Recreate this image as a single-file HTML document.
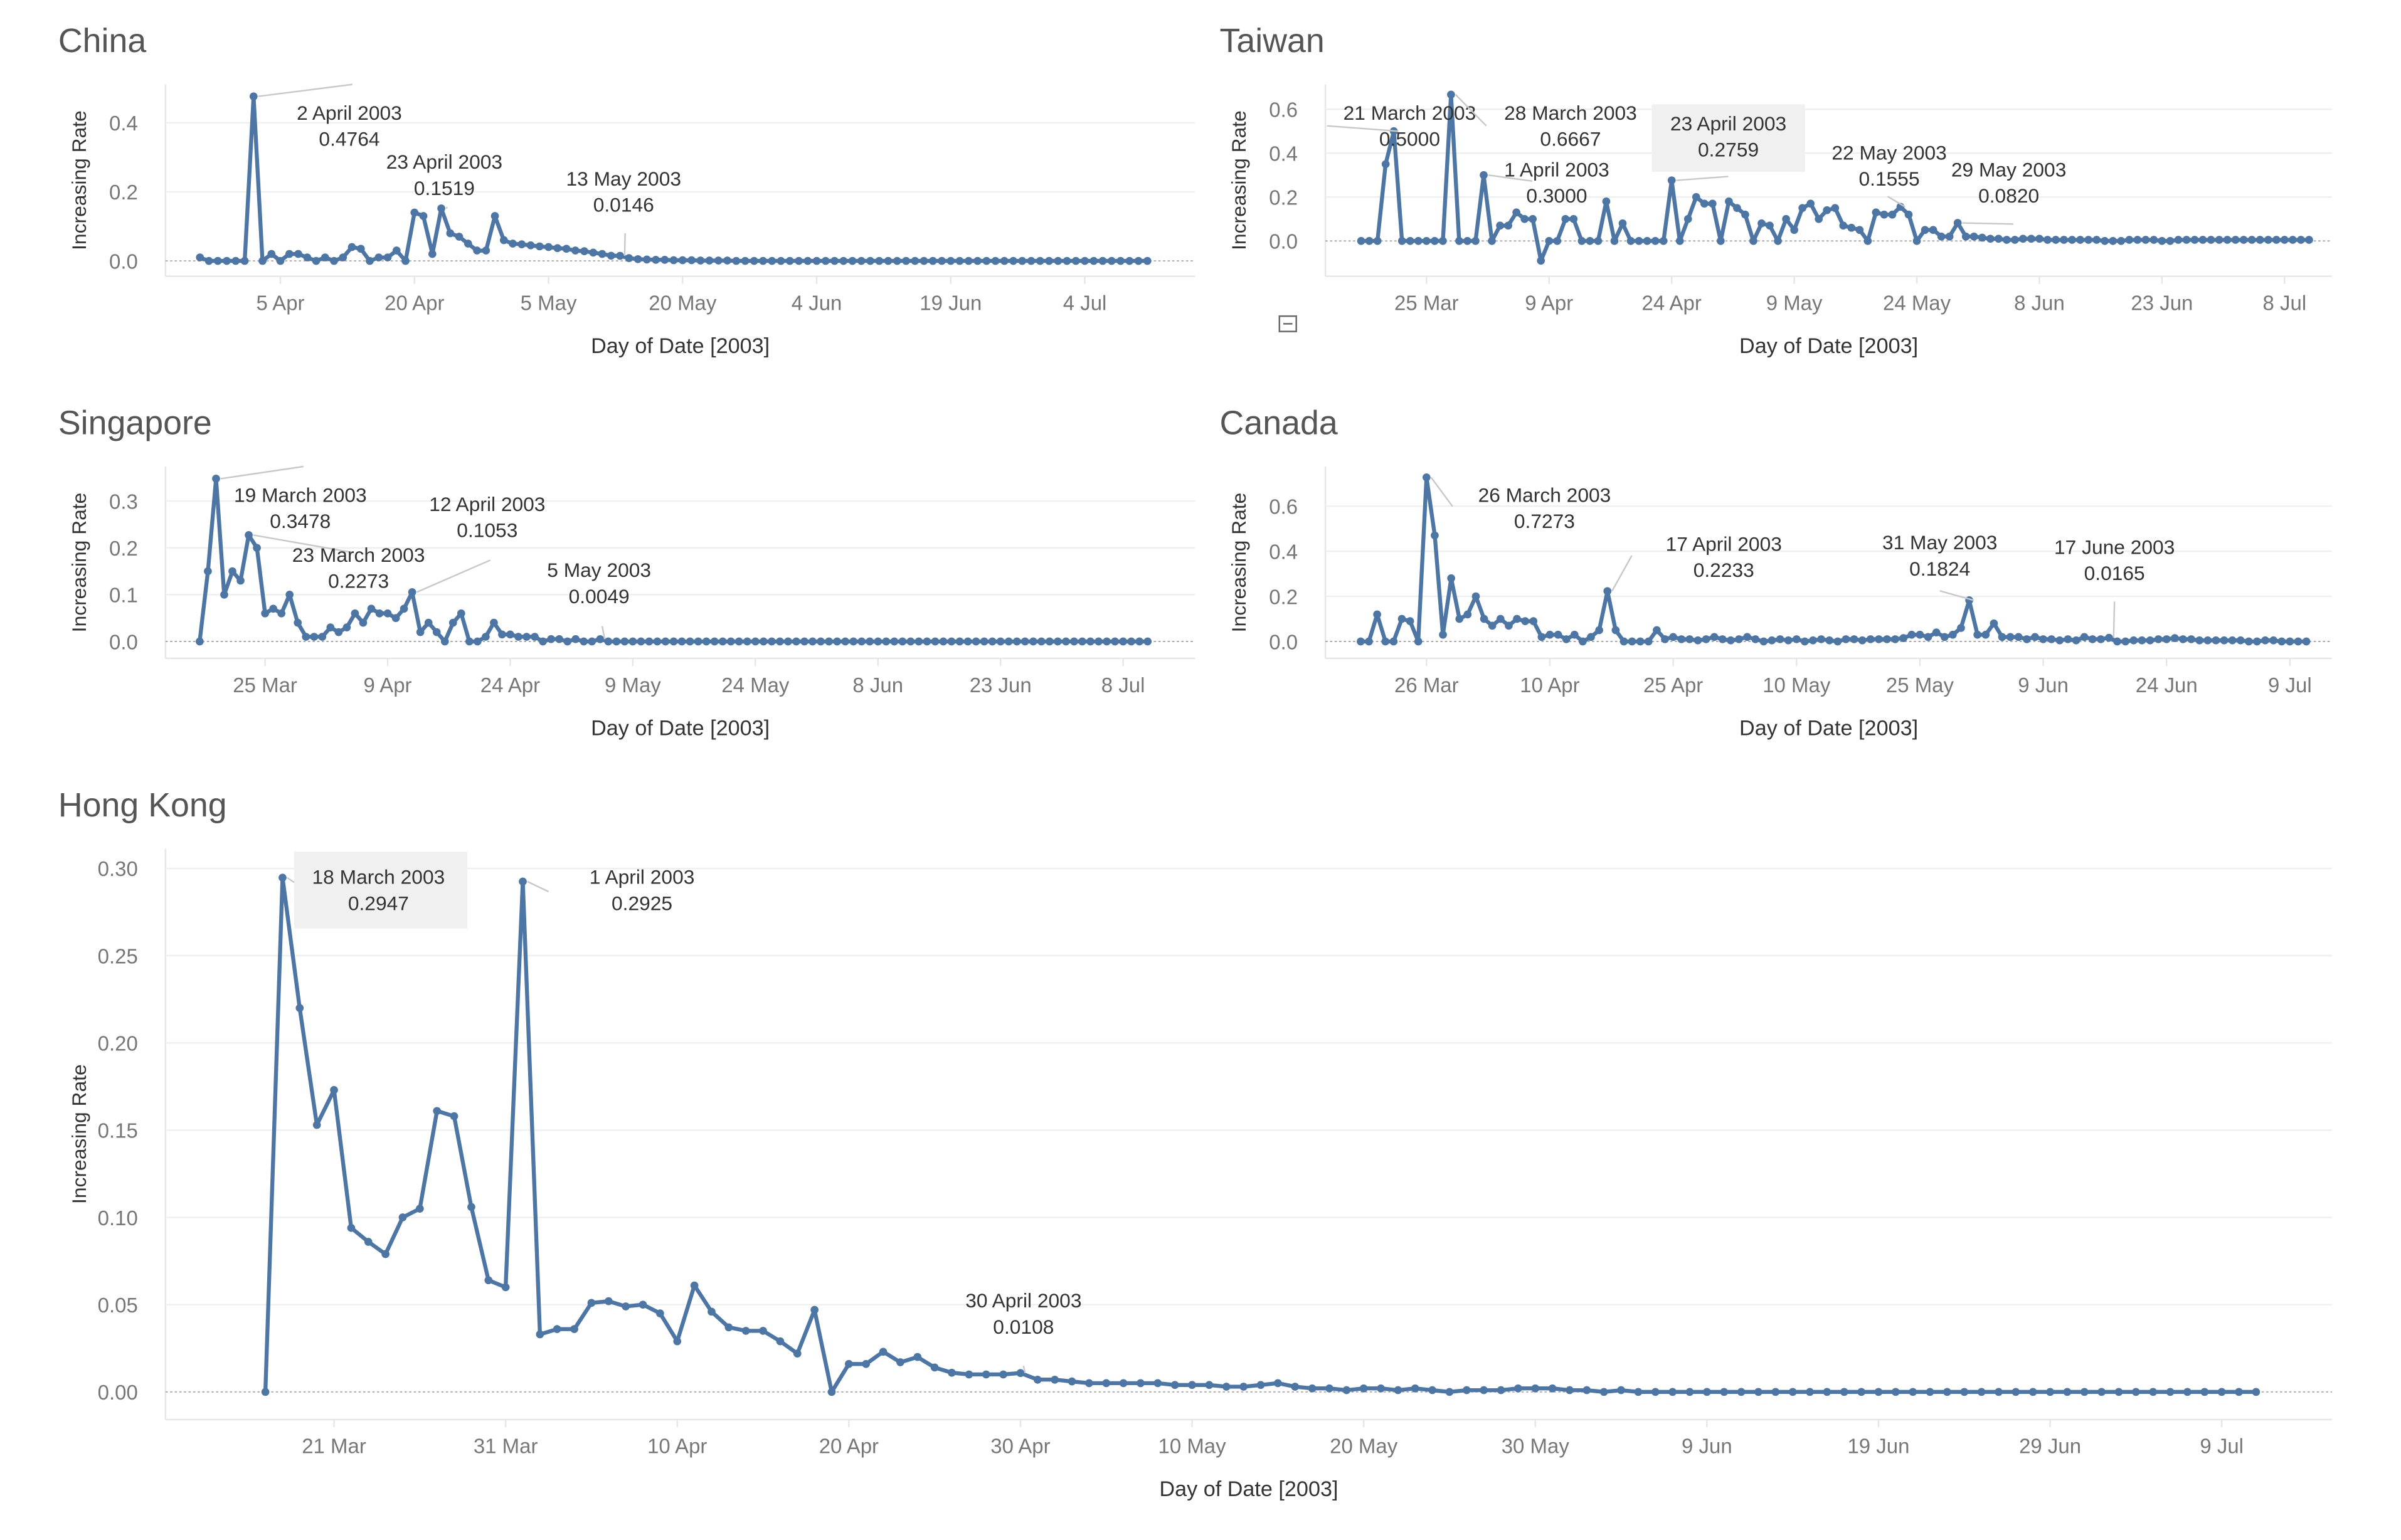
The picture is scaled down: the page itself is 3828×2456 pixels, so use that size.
<!DOCTYPE html>
<html><head><meta charset="utf-8"><style>
html,body{margin:0;padding:0;background:#fff;}
svg{display:block;}
text{font-family:"Liberation Sans",sans-serif;}
</style></head><body>
<svg id="chart" xmlns="http://www.w3.org/2000/svg" width="3828" height="2456" viewBox="0 0 1567 1003.5" preserveAspectRatio="none">
<rect width="1600" height="1010" fill="#fff"/>
</svg>
<script>
// Day numbers: Mar 1 = 0
const chinaStart = 26; // 27 Mar
const chinaValues = [0.01,0,0,0,0,0,
0.4764,0,0.02,0,0.02,0.02,0.01,0,0.01,0,0.01,0.04,0.035,0,0.01,0.01,0.03,0,0.14,0.13,0.02,0.1519,0.08,0.07,0.05,0.03,0.03,0.13,0.06,
0.05,0.048,0.045,0.042,0.04,0.037,0.035,0.03,0.028,0.024,0.02,0.015,0.0146,0.008,0.005,0.004,0.003,0.003,0.002,0.002,0.002,0.001,0.001,0.001,0.001,0,0,0,0,0,0,
0,0,0,0,0,0,0,0,0,0,0,0,0,0,0,0,0,0,0,0,0,0,0,0,0,0,0,0,0,0,
0,0,0,0,0,0,0,0,0,0,0];
const taiwanStart = 16; // 17 Mar
const taiwanValues = [0,0,0,0.35,0.5,0,0,0,0,0,0,0.6667,0,0,0,
0.3,0,0.07,0.07,0.13,0.1,0.1,-0.09,0,0,0.1,0.1,0,0,0,0.18,0,0.08,0,0,0,0,0,0.2759,0,0.1,0.2,0.17,0.17,0,
0.18,0.15,0.12,0,0.08,0.07,0,0.1,0.05,0.15,0.17,0.1,0.14,0.15,0.07,0.06,0.05,0,0.13,0.12,0.12,0.1555,0.12,0,0.05,0.05,0.02,0.02,0.082,0.02,0.02,
0.015,0.01,0.01,0.005,0.005,0.01,0.01,0.01,0.005,0.005,0.005,0.005,0.005,0.005,0.005,0,0,0,0.005,0.005,0.005,0.005,0,0,0.005,0.005,0.005,0.005,0.005,0.005,
0.005,0.005,0.005,0.005,0.005,0.005,0.005,0.005,0.005,0.005,0.005];
const singaporeStart = 16;
const singaporeValues = [0,0.15,0.3478,0.1,0.15,0.13,0.2273,0.2,0.06,0.07,0.06,0.1,0.04,0.01,0.01,
0.01,0.03,0.02,0.03,0.06,0.04,0.07,0.06,0.06,0.05,0.07,0.1053,0.02,0.04,0.02,0,0.04,0.06,0,0,0.01,0.04,0.015,0.015,0.01,0.01,0.01,0,0.005,0.005,
0,0.005,0,0,0.0049,0,0,0,0,0,0,0,0,0,0,0,0,0,0,0,0,0,0,0,0,0,0,0,0,0,0,
0,0,0,0,0,0,0,0,0,0,0,0,0,0,0,0,0,0,0,0,0,0,0,0,0,0,0,0,0,0,
0,0,0,0,0,0,0,0,0,0,0];
const canadaStart = 17; // 18 Mar
const canadaValues = [0,0,0.12,0,0,0.1,0.09,0,0.7273,0.47,0.03,0.28,0.1,0.12,
0.2,0.1,0.07,0.1,0.07,0.1,0.09,0.09,0.02,0.03,0.03,0.01,0.03,0,0.02,0.05,0.2233,0.05,0,0,0,0,0.05,0.01,0.02,0.01,0.01,0.005,0.01,0.02,
0.01,0.005,0.01,0.02,0.01,0,0.005,0.01,0.005,0.01,0,0.005,0.01,0.005,0,0.01,0.01,0.005,0.01,0.01,0.01,0.01,0.015,0.03,0.03,0.02,0.04,0.02,0.03,0.06,0.1824,
0.03,0.03,0.08,0.02,0.02,0.02,0.01,0.02,0.01,0.01,0.005,0.01,0.005,0.02,0.01,0.01,0.0165,0,0,0.005,0.005,0.005,0.01,0.01,0.015,0.01,0.01,0.005,0.005,0.005,
0.005,0.005,0.005,0,0,0.005,0.005,0,0,0,0];
const hongkongStart = 16;
const hongkongValues = [0,0.2947,0.22,0.153,0.173,0.094,0.086,0.079,0.1,0.105,0.161,0.158,0.106,0.064,0.06,
0.2925,0.033,0.036,0.036,0.051,0.052,0.049,0.05,0.045,0.029,0.061,0.046,0.037,0.035,0.035,0.029,0.022,0.047,0,0.016,0.016,0.023,0.017,0.02,0.014,0.011,0.01,0.01,0.01,0.0108,
0.007,0.007,0.006,0.005,0.005,0.005,0.005,0.005,0.004,0.004,0.004,0.003,0.003,0.004,0.005,0.003,0.002,0.002,0.001,0.002,0.002,0.001,0.002,0.001,0,0.001,0.001,0.001,0.002,0.002,0.002,
0.001,0.001,0,0.001,0,0,0,0,0,0,0,0,0,0,0,0,0,0,0,0,0,0,0,0,0,0,0,0,0,0,
0,0,0,0,0,0,0,0,0,0,0];

const chinaTickLabels = ["5 Apr","20 Apr","5 May","20 May","4 Jun","19 Jun","4 Jul"];
const chinaTickDays = [35,50,65,80,95,110,125];
const chinaYTicks = [0,0.2,0.4];
const taiwanTickLabels = ["25 Mar","9 Apr","24 Apr","9 May","24 May","8 Jun","23 Jun","8 Jul"];
const taiwanTickDays = [24,39,54,69,84,99,114,129];
const taiwanYTicks = [0,0.2,0.4,0.6];
const singaporeTickLabels = ["25 Mar","9 Apr","24 Apr","9 May","24 May","8 Jun","23 Jun","8 Jul"];
const singaporeTickDays = [24,39,54,69,84,99,114,129];
const singaporeYTicks = [0,0.1,0.2,0.3];
const canadaTickLabels = ["26 Mar","10 Apr","25 Apr","10 May","25 May","9 Jun","24 Jun","9 Jul"];
const canadaTickDays = [25,40,55,70,85,100,115,130];
const canadaYTicks = [0,0.2,0.4,0.6];
const hongkongTickLabels = ["21 Mar","31 Mar","10 Apr","20 Apr","30 Apr","10 May","20 May","30 May","9 Jun","19 Jun","29 Jun","9 Jul"];
const hongkongTickDays = [20,30,40,50,60,70,80,90,100,110,120,130];
const hongkongYTicks = [0,0.05,0.1,0.15,0.2,0.25,0.3];
const hongkongYLabels = ["0.00","0.05","0.10","0.15","0.20","0.25","0.30"];

const NS = "http://www.w3.org/2000/svg";
const svg = document.getElementById("chart");
function mk(tag, attrs, parent){const e=document.createElementNS(NS,tag);for(const k in attrs)e.setAttribute(k,attrs[k]);(parent||svg).appendChild(e);return e;}

function panel(cfg){
  const g = mk("g",{});
  
  
  const xs = d => cfg.x0 + (d - cfg.d0) * cfg.pxDay;
  const ys = v => cfg.y0 - v * cfg.pxUnit;
  const t = mk("text",{x:38,y:0,"font-size":22,fill:"#555"},g);
  t.setAttribute("x",cfg.titleX); t.setAttribute("y",cfg.titleY); t.textContent=cfg.title;
  
  
  mk("line",{x1:cfg.left,x2:cfg.left,y1:cfg.top,y2:cfg.bottom,stroke:"#e6e6e6","stroke-width":1},g);
  mk("line",{x1:cfg.left,x2:cfg.right,y1:cfg.bottom,y2:cfg.bottom,stroke:"#e6e6e6","stroke-width":1},g);
  cfg.yTicks.forEach((v,i)=>{
    const y=ys(v);
    if(v!==0) mk("line",{x1:cfg.left,x2:cfg.right,y1:y,y2:y,stroke:"#efefef","stroke-width":1},g);
    else mk("line",{x1:cfg.left,x2:cfg.right,y1:y,y2:y,stroke:"#aaa","stroke-width":0.8,"stroke-dasharray":"1.5,1.5"},g);
    const lb=mk("text",{x:cfg.left-18,y:y+5,"font-size":13.5,fill:"#777","text-anchor":"end"},g);
    lb.textContent = cfg.yLabels ? cfg.yLabels[i] : v.toFixed(1);
    
    
  });
  cfg.tickDays.forEach((d,i)=>{
    const x=xs(d);
    mk("line",{x1:x,x2:x,y1:cfg.bottom,y2:cfg.bottom+5,stroke:"#e6e6e6"},g);
    const lb=mk("text",{x:x,y:cfg.bottom+22,"font-size":13.5,fill:"#777","text-anchor":"middle"},g);
    lb.textContent=cfg.tickLabels[i];
    
    
  });
  const xt=mk("text",{x:(cfg.left+cfg.right)/2,y:cfg.bottom+50,"font-size":14,fill:"#333","text-anchor":"middle"},g);
  xt.textContent="Day of Date [2003]";
  
  
  const ym=(cfg.top+cfg.bottom)/2;
  const yt=mk("text",{x:0,y:0,"font-size":13,fill:"#333","text-anchor":"middle",transform:`translate(${cfg.left-52},${ym}) rotate(-90)`},g);
  yt.textContent="Increasing Rate";
  
  
  (cfg.boxes||[]).forEach(b=>{ mk("rect",{x:b[0],y:b[1],width:b[2],height:b[3],fill:"#f0f0f0"},g); });
  const pts = cfg.values.map((v,i)=>[xs(cfg.start+i), ys(v)]);
  const line=mk("polyline",{points:pts.map(p=>p[0].toFixed(1)+","+p[1].toFixed(1)).join(" "),fill:"none",stroke:"#4e76a5","stroke-width":2.6,"stroke-linejoin":"round"},g);
  
  
  pts.forEach(p=>{
    const c=mk("circle",{cx:p[0],cy:p[1],r:2.6,fill:"#4e76a5"},g);
    
    
  });
  (cfg.notes||[]).forEach(n=>{
    const i=n.idx; const p=pts[i];
    mk("line",{x1:p[0]+3,y1:p[1],x2:n.lx,y2:n.ly,stroke:"#c8c8c8","stroke-width":1},g);
    const a=mk("text",{x:n.tx,y:n.ty,"font-size":13,fill:"#333","text-anchor":"middle"},g);
    a.textContent=n.date;
    
    
    const b=mk("text",{x:n.tx,y:n.ty+17,"font-size":13,fill:"#333","text-anchor":"middle"},g);
    b.textContent=cfg.values[i].toFixed(4);
    
    
  });
}

panel({name:"china",title:"China",titleX:38,titleY:34,left:108,right:780,top:55,bottom:180,
  x0:183,d0:35,pxDay:87.5/15,y0:170,pxUnit:225,start:chinaStart,values:chinaValues,
  tickLabels:chinaTickLabels,tickDays:chinaTickDays,yTicks:chinaYTicks,
  notes:[{idx:6,date:"2 April 2003",tx:228,ty:78,lx:230,ly:55},
         {idx:27,date:"23 April 2003",tx:290,ty:110,lx:292,ly:135},
         {idx:47,date:"13 May 2003",tx:407,ty:121,lx:408,ly:152}]});
panel({name:"taiwan",title:"Taiwan",titleX:796,titleY:34,left:865,right:1522,top:55,bottom:180,
  x0:931,d0:24,pxDay:80/15,y0:157,pxUnit:143,start:taiwanStart,values:taiwanValues,
  tickLabels:taiwanTickLabels,tickDays:taiwanTickDays,yTicks:taiwanYTicks,
  boxes:[[1078,68,100,44]],
  notes:[{idx:4,date:"21 March 2003",tx:920,ty:78,lx:866,ly:82},
         {idx:11,date:"28 March 2003",tx:1025,ty:78,lx:970,ly:82},
         {idx:15,date:"1 April 2003",tx:1016,ty:115,lx:1000,ly:118},
         {idx:38,date:"23 April 2003",tx:1128,ty:85,lx:1128,ly:115},
         {idx:66,date:"22 May 2003",tx:1233,ty:104,lx:1232,ly:128},
         {idx:73,date:"29 May 2003",tx:1311,ty:115,lx:1314,ly:146}]});
panel({name:"singapore",title:"Singapore",titleX:38,titleY:283,left:108,right:780,top:304,bottom:429,
  x0:173,d0:24,pxDay:80/15,y0:418,pxUnit:305,start:singaporeStart,values:singaporeValues,
  tickLabels:singaporeTickLabels,tickDays:singaporeTickDays,yTicks:singaporeYTicks,
  notes:[{idx:2,date:"19 March 2003",tx:196,ty:327,lx:198,ly:304},
         {idx:6,date:"23 March 2003",tx:234,ty:366,lx:230,ly:360},
         {idx:26,date:"12 April 2003",tx:318,ty:333,lx:320,ly:365},
         {idx:49,date:"5 May 2003",tx:391,ty:376,lx:393,ly:408}]});
panel({name:"canada",title:"Canada",titleX:796,titleY:283,left:865,right:1522,top:304,bottom:429,
  x0:931,d0:25,pxDay:80.5/15,y0:418,pxUnit:147,start:canadaStart,values:canadaValues,
  tickLabels:canadaTickLabels,tickDays:canadaTickDays,yTicks:canadaYTicks,
  notes:[{idx:8,date:"26 March 2003",tx:1008,ty:327,lx:948,ly:330},
         {idx:30,date:"17 April 2003",tx:1125,ty:359,lx:1065,ly:362},
         {idx:74,date:"31 May 2003",tx:1266,ty:358,lx:1266,ly:385},
         {idx:91,date:"17 June 2003",tx:1380,ty:361,lx:1380,ly:392}]});
panel({name:"hong-kong",title:"Hong Kong",titleX:38,titleY:532,left:108,right:1522,top:553,bottom:925,
  x0:218,d0:20,pxDay:11.2,y0:907,pxUnit:1137,start:hongkongStart,values:hongkongValues,
  tickLabels:hongkongTickLabels,tickDays:hongkongTickDays,yTicks:hongkongYTicks,yLabels:hongkongYLabels,
  boxes:[[192,555,113,50]],
  notes:[{idx:1,date:"18 March 2003",tx:247,ty:576,lx:192,ly:575},
         {idx:15,date:"1 April 2003",tx:419,ty:576,lx:358,ly:581},
         {idx:44,date:"30 April 2003",tx:668,ty:852,lx:668,ly:890}]});
const ic=mk("rect",{x:835,y:206,width:11,height:10,fill:"#fff",stroke:"#666","stroke-width":1});


mk("line",{x1:837.5,x2:843.5,y1:211,y2:211,stroke:"#666","stroke-width":1});
</script>
</body></html>
